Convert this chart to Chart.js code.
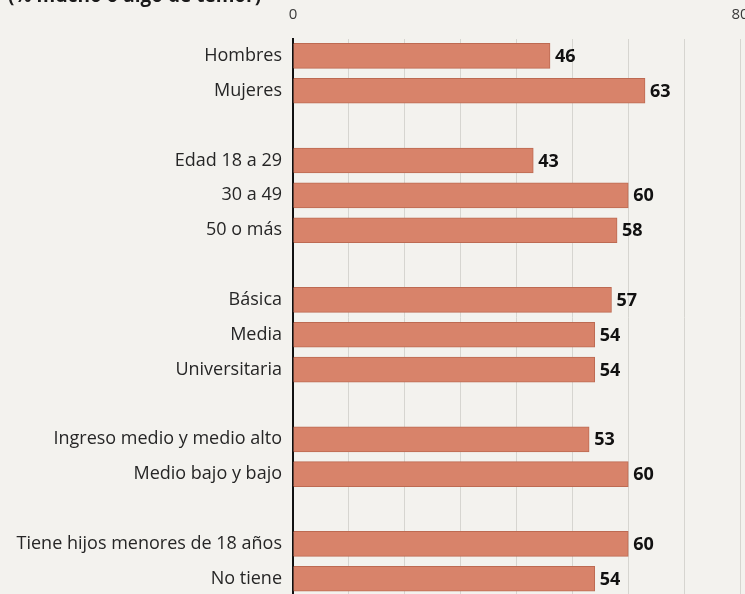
<!DOCTYPE html>
<html>
<head>
<meta charset="utf-8">
<script src="https://cdn.jsdelivr.net/npm/chart.js@4"></script>
<style>
  html, body { margin: 0; padding: 0; background: #f3f2ee; overflow: hidden; }
  #wrap { width: 745px; height: 594px; overflow: hidden; position: relative; }
  canvas { display: block; }
</style>
</head>
<body>
<div id="wrap"><canvas id="c" width="745" height="618"></canvas></div>
<script>
const titleText = '(% mucho o algo de temor)';
const categories = ['Hombres', 'Mujeres', '', 'Edad 18 a 29', '30 a 49', '50 o más', '', 'Básica', 'Media', 'Universitaria', '', 'Ingreso medio y medio alto', 'Medio bajo y bajo', '', 'Tiene hijos menores de 18 años', 'No tiene'];
const values = [46, 63, null, 43, 60, 58, null, 57, 54, 54, null, 53, 60, null, 60, 54];
const axisTickLabels = [0, 80];

const overlay = {
  id: 'overlay',
  afterDatasetsDraw(chart) {
    const ctx = chart.ctx;
    const meta = chart.getDatasetMeta(0);
    ctx.save();
    ctx.fillStyle = '#111';
    ctx.font = 'bold 18px "Open Sans", sans-serif';
    ctx.textAlign = 'left';
    ctx.textBaseline = 'middle';
    meta.data.forEach((el, i) => {
      const v = values[i];
      if (v === null || v === undefined) return;
      ctx.fillText(String(v), el.x + 5, el.y + 1);
    });
    const xs = chart.scales.x;
    ctx.fillStyle = '#3a3a3a';
    ctx.font = '15px "Open Sans", sans-serif';
    ctx.textAlign = 'center';
    axisTickLabels.forEach(t => {
      ctx.fillText(String(t), xs.getPixelForValue(t), 15);
    });
    ctx.fillStyle = '#1a1a1a';
    ctx.font = 'bold 19px "Open Sans", sans-serif';
    ctx.textAlign = 'left';
    ctx.textBaseline = 'alphabetic';
    ctx.fillText(titleText, 8, 2);
    ctx.restore();
  }
};

new Chart(document.getElementById('c'), {
  type: 'bar',
  data: {
    labels: categories,
    datasets: [{
      data: values,
      backgroundColor: '#d8836a',
      borderColor: '#bd6a52',
      borderWidth: 1,
      borderSkipped: 'left',
      barThickness: 25
    }]
  },
  options: {
    indexAxis: 'y',
    responsive: false,
    animation: false,
    layout: { padding: { top: 38.5, bottom: 6.5, left: 0, right: 5 } },
    plugins: { legend: { display: false }, tooltip: { enabled: false }, title: { display: false } },
    scales: {
      x: {
        position: 'top',
        min: 0, max: 80,
        ticks: { display: false, stepSize: 10 },
        grid: { color: '#d6d5d0', lineWidth: 1, drawTicks: false },
        border: { display: false }
      },
      y: {
        offset: true,
        afterFit(scale) { scale.width = 293; },
        ticks: {
          color: '#262626',
          font: { family: '"Open Sans", sans-serif', size: 18 },
          padding: 11
        },
        grid: { display: false, drawTicks: false },
        border: { display: true, color: '#111', width: 2 }
      }
    }
  },
  plugins: [overlay]
});
</script>
</body>
</html>
